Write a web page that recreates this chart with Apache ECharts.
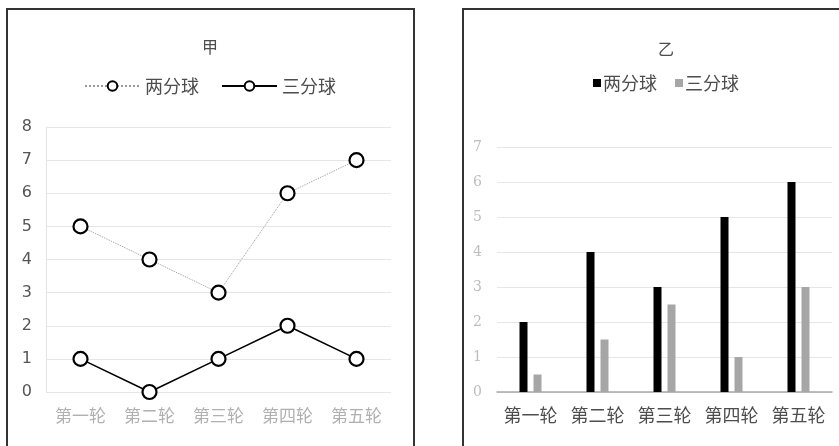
<!DOCTYPE html>
<html>
<head>
<meta charset="utf-8">
<script src="https://cdn.jsdelivr.net/npm/echarts@6/dist/echarts.min.js"></script>
<style>
  html, body { margin: 0; padding: 0; background: #fff; }
  #chart-jia { position: absolute; left: 0; top: 0; width: 420px; height: 446px; }
  #chart-yi { position: absolute; left: 420px; top: 0; width: 419px; height: 446px; }
</style>
</head>
<body>
<div id="chart-jia"></div>
<div id="chart-yi"></div>
<script>
var rounds = ['第一轮', '第二轮', '第三轮', '第四轮', '第五轮'];
var seriesNames = ['两分球', '三分球'];
// 甲
var jiaTwo = [5, 4, 3, 6, 7];
var jiaThree = [1, 0, 1, 2, 1];
// 乙
var yiTwo = [2, 4, 3, 5, 6];
var yiThree = [0.5, 1.5, 2.5, 1, 3];

var cjk = '"Noto Sans CJK SC", "Noto Sans", sans-serif';

// left chart: 甲
var myChart = echarts.init(document.getElementById('chart-jia'));

var option = {
    animation: false,
    textStyle: { fontFamily: cjk },
    graphic: [{
        type: 'rect',
        shape: { x: 7, y: 9, width: 407, height: 470 },
        style: { fill: 'none', stroke: '#333', lineWidth: 2 },
        silent: true
    }],
    title: {
        text: '甲',
        left: 'center',
        top: 34,
        textStyle: { fontSize: 16, fontWeight: 'normal', color: '#4d4d4d' }
    },
    legend: {
        top: 72,
        left: 'center',
        itemWidth: 55,
        itemHeight: 12,
        itemGap: 22,
        data: seriesNames,
        textStyle: { fontSize: 18, color: '#4d4d4d' }
    },
    grid: {
        left: 46,
        right: 29,
        top: 127,
        bottom: 54
    },
    xAxis: {
        type: 'category',
        data: rounds,
        axisLine: { show: false },
        axisTick: { show: false },
        axisLabel: { interval: 0, margin: 15, fontSize: 17, color: '#b0b0b0' }
    },
    yAxis: {
        type: 'value',
        min: 0,
        max: 8,
        interval: 1,
        axisLine: { show: true, lineStyle: { color: '#e3e3e3' } },
        axisTick: { show: false },
        splitLine: { lineStyle: { color: '#e6e6e6' } },
        axisLabel: { margin: 14, fontSize: 16, color: '#555', fontFamily: 'DejaVu Sans' }
    },
    series: [{
        name: '两分球',
        type: 'line',
        data: jiaTwo,
        symbol: 'circle',
        symbolSize: 14,
        lineStyle: { color: '#9a9a9a', width: 1, type: 'dotted' },
        itemStyle: { color: '#fff', borderColor: '#000', borderWidth: 2.2 }
    }, {
        name: '三分球',
        type: 'line',
        data: jiaThree,
        symbol: 'circle',
        symbolSize: 14,
        lineStyle: { color: '#000', width: 1.6 },
        itemStyle: { color: '#fff', borderColor: '#000', borderWidth: 2.2 }
    }]
};
myChart.setOption(option);

// right chart: 乙
var myChart2 = echarts.init(document.getElementById('chart-yi'));

var option2 = {
    animation: false,
    textStyle: { fontFamily: cjk },
    graphic: [{
        type: 'rect',
        shape: { x: 43, y: 9, width: 420, height: 470 },
        style: { fill: 'none', stroke: '#333', lineWidth: 2 },
        silent: true
    }],
    title: {
        text: '乙',
        left: 233,
        top: 36,
        textStyle: { fontSize: 16, fontWeight: 'normal', color: '#4d4d4d' }
    },
    legend: {
        top: 69,
        left: 168,
        itemWidth: 8,
        itemHeight: 8,
        itemGap: 18,
        icon: 'rect',
        data: seriesNames,
        textStyle: { fontSize: 18, color: '#4d4d4d', padding: [0, 0, 0, -3] }
    },
    grid: {
        left: 77,
        right: 7,
        top: 147,
        bottom: 54
    },
    xAxis: {
        type: 'category',
        data: rounds,
        axisLine: { show: true, lineStyle: { color: '#a8a8a8', width: 1.5 } },
        axisTick: { show: false },
        axisLabel: { interval: 0, margin: 14, fontSize: 18, color: '#4d4d4d' }
    },
    yAxis: {
        type: 'value',
        min: 0,
        max: 7,
        interval: 1,
        axisLine: { show: false },
        axisTick: { show: false },
        splitLine: { lineStyle: { color: '#e6e6e6' } },
        axisLabel: { margin: 15, fontSize: 14, color: '#bdbdbd', fontFamily: 'DejaVu Serif' }
    },
    series: [{
        name: '两分球',
        type: 'bar',
        data: yiTwo,
        barWidth: 8,
        barGap: '75%',
        itemStyle: { color: '#000' }
    }, {
        name: '三分球',
        type: 'bar',
        data: yiThree,
        barWidth: 8,
        itemStyle: { color: '#a6a6a6' }
    }]
};
myChart2.setOption(option2);
</script>
</body>
</html>
